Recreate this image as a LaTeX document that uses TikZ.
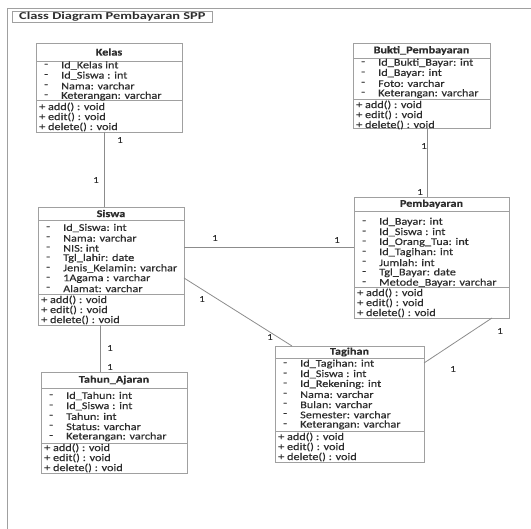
\documentclass[tikz,border=0pt]{standalone}
\usepackage{fontspec}
\setmainfont{Carlito}[FakeStretch=1.2,FakeBold=0.4]
\newfontfamily\titlefont{Carlito}[FakeStretch=1.36]
\definecolor{boxgray}{RGB}{160,160,160}
\definecolor{linegray}{RGB}{140,140,140}
\definecolor{txt}{RGB}{45,45,45}
\newcommand{\rowfont}{\fontsize{10.2}{10}\selectfont}
\newcommand{\UmlBox}[8]{%
  \node[cls, minimum width=#4pt-#2pt, minimum height=#5pt-#3pt] (#1) at (#2,#3) {};
  \draw[sepline] (#2,#6) -- (#4,#6);
  \draw[sepline] (#2,#7) -- (#4,#7);
  \node[ttl] (#1-title) at ({(#2+#4)/2},{(#3+#6)/2}) {#8};
}
\newcommand{\UmlRows}[4]{%
  \foreach \t [count=\i from 0] in {#4} {
    \node[row] at (#2+8,#3+\i*#1) {-};
    \node[row] at (#2+25,#3+\i*#1) {\t};
  }
}
\newcommand{\UmlMethods}[2]{%
  \node[row] at (#1+3,#2) {+ add() : void};
  \node[row] at (#1+3,#2+10) {+ edit() : void};
  \node[row] at (#1+3,#2+20) {+ delete() : void};
}
\tikzset{
  cls/.style={draw=boxgray, line width=0.8pt, fill=white, anchor=north west, inner sep=0pt, outer sep=0pt},
  sepline/.style={draw=boxgray, line width=0.8pt},
  row/.style={anchor=west, inner sep=0pt, font=\rowfont, text=txt},
  ttl/.style={anchor=center, inner sep=0pt, font=\rowfont\bfseries, text=txt},
  mult/.style={inner sep=0pt, font=\fontsize{9}{9}\selectfont, text=txt},
  conn/.style={draw=linegray, line width=0.8pt},
  frame/.style={draw=boxgray, line width=0.8pt},
}
\begin{document}
\begin{tikzpicture}[x=1pt,y=-1pt]
\useasboundingbox (0,0) rectangle (531,529);
% frame
\draw[frame] (7,529) -- (7,8) -- (531,8);
\node[draw=boxgray, line width=0.8pt, anchor=north west, inner sep=0pt, minimum width=200pt, minimum height=11pt] (titlebox) at (12,11) {};
\node[anchor=west, inner sep=0pt, font=\titlefont\fontsize{10.6}{10}\selectfont\bfseries, text=txt] (titletext) at (19,16.5) {Class Diagram Pembayaran SPP};

% Kelas
\UmlBox{kelas}{36}{43}{182}{132}{61}{100}{Kelas}
\UmlRows{10.2}{36}{65.5}{Id\_Kelas int,Id\_Siswa : int,Nama: varchar,Keterangan: varchar}
\UmlMethods{36}{107}

% Bukti_Pembayaran
\UmlBox{bukti}{353}{43}{490}{128}{58}{99}{Bukti\_Pembayaran}
\UmlRows{10.2}{353}{63}{Id\_Bukti\_Bayar: int,Id\_Bayar: int,Foto: varchar,Keterangan: varchar}
\UmlMethods{353}{105}

% Siswa
\UmlBox{siswa}{38}{207}{184}{325}{220}{294}{Siswa}
\UmlRows{10.1}{38}{228}{Id\_Siswa: int,Nama: varchar,NIS: int,Tgl\_lahir: date,Jenis\_Kelamin: varchar,1Agama : varchar,Alamat: varchar}
\UmlMethods{38}{300}

% Pembayaran
\UmlBox{pemb}{354}{197}{509}{318}{211}{287}{Pembayaran}
\UmlRows{10.15}{354}{222}{Id\_Bayar: int,Id\_Siswa : int,Id\_Orang\_Tua: int,Id\_Tagihan: int,Jumlah: int,Tgl\_Bayar: date,Metode\_Bayar: varchar}
\UmlMethods{354}{293}

% Tagihan
\UmlBox{tagihan}{275}{346}{424}{462}{358}{431}{Tagihan}
\UmlRows{10.15}{275}{364}{Id\_Tagihan: int,Id\_Siswa : int,Id\_Rekening: int,Nama: varchar,Bulan: varchar,Semester: varchar,Keterangan: varchar}
\UmlMethods{275}{437}

% Tahun_Ajaran
\UmlBox{tahun}{41}{372}{187}{473}{388}{443}{Tahun\_Ajaran}
\UmlRows{10.2}{41}{396}{Id\_Tahun: int,Id\_Siswa : int,Tahun: int,Status: varchar,Keterangan: varchar}
\UmlMethods{41}{448}

% connectors
\draw[conn] (kelas.south -| 104,0) -- (siswa.north -| 104,0);
\draw[conn] (bukti.south -| 427,0) -- (pemb.north -| 427,0);
\draw[conn] (siswa.east |- 0,247) -- (pemb.west |- 0,247);
\draw[conn] (siswa.east |- 0,278) -- (tagihan.north -| 292,0);
\draw[conn] (pemb.south -| 492,0) -- (tagihan.east |- 0,363);
\draw[conn] (siswa.south -| 100,0) -- (tahun.north -| 100,0);

% multiplicities
\node[mult] (m1) at (120,140) {1};
\node[mult] (m2) at (96,180) {1};
\node[mult] (m3) at (424,146) {1};
\node[mult] (m4) at (420,192) {1};
\node[mult] (m5) at (215,238) {1};
\node[mult] (m6) at (337,240) {1};
\node[mult] (m7) at (202,299) {1};
\node[mult] (m8) at (270,337) {1};
\node[mult] (m9) at (500,331) {1};
\node[mult] (m10) at (453,369) {1};
\node[mult] (m11) at (110,348) {1};
\node[mult] (m12) at (110,367) {1};
\end{tikzpicture}
\end{document}
